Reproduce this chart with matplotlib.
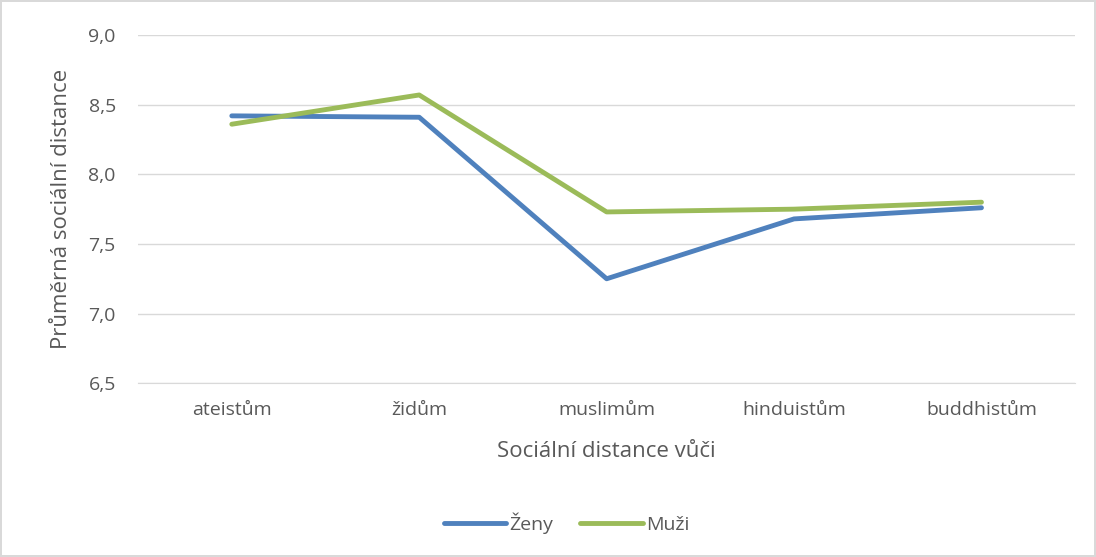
import matplotlib.pyplot as plt
import numpy as np

plt.rcParams['font.family'] = ['Open Sans', 'DejaVu Sans']

kategorie = ['ateistům', 'židům', 'muslimům', 'hinduistům', 'buddhistům']
zeny = [8.42, 8.41, 7.25, 7.68, 7.76]
muzi = [8.36, 8.57, 7.73, 7.75, 7.80]
y_ticks = [6.5, 7.0, 7.5, 8.0, 8.5, 9.0]
y_labels = ['6,5', '7,0', '7,5', '8,0', '8,5', '9,0']

fig = plt.figure(figsize=(10.96, 5.57), dpi=100, edgecolor='#D9D9D9', linewidth=1.5)
ax = fig.add_axes([0.126, 0.312, 0.855, 0.625])

x = np.arange(len(kategorie))
ax.plot(x, zeny, color='#4F81BD', lw=3.5, label='Ženy', solid_capstyle='round')
ax.plot(x, muzi, color='#9BBB59', lw=3.5, label='Muži', solid_capstyle='round')

ax.set_xlim(-0.5, len(kategorie) - 0.5)
ax.set_ylim(6.5, 9.0)
ax.set_xticks(x)
ax.set_xticklabels(kategorie, fontsize=14, color='#595959')
ax.set_yticks(y_ticks)
ax.set_yticklabels(y_labels, fontsize=14, color='#595959')
ax.tick_params(axis='y', length=0, pad=16)
ax.tick_params(axis='x', length=0, pad=13)
ax.grid(axis='y', color='#D9D9D9', lw=1)
ax.set_axisbelow(True)
for s in ['top', 'right', 'left']:
    ax.spines[s].set_visible(False)
ax.spines['bottom'].set_color('#D9D9D9')

ax.set_xlabel('Sociální distance vůči', fontsize=16, color='#595959', labelpad=16)
ax.set_ylabel('Průměrná sociální distance', fontsize=16, color='#595959', labelpad=12)

fig.legend(loc='center', bbox_to_anchor=(0.517, 0.061), ncol=2, frameon=False,
           fontsize=14, handlelength=3.2, columnspacing=1.4, handletextpad=0.15,
           labelcolor='#595959')

fig.savefig('out.png', dpi=100)
